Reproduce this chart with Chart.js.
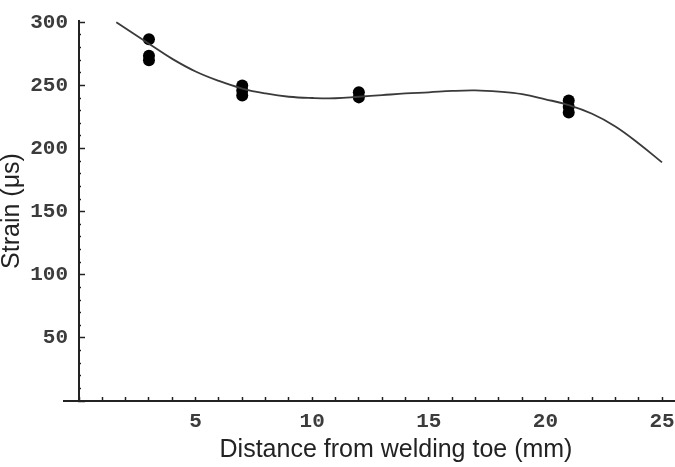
<!DOCTYPE html>
<html><head><meta charset="utf-8">
<script src="https://cdn.jsdelivr.net/npm/chart.js@4.4.0/dist/chart.umd.min.js"></script>
<style>html,body{margin:0;padding:0;background:#fff}#wrap{width:675px;height:467px}</style>
</head><body><div id="wrap"><canvas id="c"></canvas></div>
<script>
// fitted curve
const fitDistance = [1.6, 3, 4, 5, 6, 7, 8, 9, 10, 11, 12, 13, 14, 15, 16, 17, 18, 19, 20, 21, 22, 23, 24, 25];
const fitStrain   = [300, 283, 271, 261, 253.5, 247.5, 243.6, 241, 240, 239.8, 241, 242.3, 243.6, 244.5, 245.6, 246, 245, 243, 239, 234.4, 227.5, 217.5, 204, 189];
// measured points
const measDistance = [3, 3, 3, 7, 7, 7, 12, 12, 21, 21, 21];
const measStrain   = [286.5, 273.5, 270, 250, 246, 242, 244.5, 240.5, 238, 233, 228.5];
// tick labels
const xTickLabels = ['5', '10', '15', '20', '25'];
const yTickLabels = ['50', '100', '150', '200', '250', '300'];
const xTitle = 'Distance from welding toe (mm)';
const yTitle = 'Strain (\u03bcs)';

const axisPlugin = {
  id: 'axisExtent',
  afterLayout(chart) {
    const s = chart.scales.x;
    s.left = chart.chartArea.left - 15;
    s.right = chart.chartArea.right + 59;
  }
};

const tickFont = {family: 'Liberation Mono', size: 21, weight: 'bold'};
const titleFont = {family: 'Liberation Sans', size: 25, lineHeight: 1};

new Chart(document.getElementById('c'), {
  type: 'scatter',
  data: {
    datasets: [
      {
        type: 'line',
        data: fitDistance.map((x, i) => ({x, y: fitStrain[i]})),
        borderColor: '#3a3a3a',
        borderWidth: 1.8,
        pointRadius: 0,
        tension: 0.4,
        fill: false
      },
      {
        data: measDistance.map((x, i) => ({x, y: measStrain[i]})),
        backgroundColor: '#000',
        borderColor: '#000',
        pointRadius: 6,
        borderWidth: 0
      }
    ]
  },
  options: {
    responsive: true,
    maintainAspectRatio: false,
    animation: false,
    layout: {padding: {top: 21, right: 0, left: 0, bottom: 0}},
    plugins: {legend: {display: false}, tooltip: {enabled: false}},
    scales: {
      x: {
        type: 'linear',
        min: 0, max: 25.3,
        afterFit(s) { s.height = 66; s.paddingLeft = 0; s.paddingRight = 0; },
        ticks: {
          stepSize: 1, includeBounds: false, autoSkip: false, maxRotation: 0,
          font: tickFont, color: '#3c3c3c', padding: 12,
          callback: (v) => xTickLabels.includes(String(v)) ? String(v) : ''
        },
        grid: {drawOnChartArea: false, drawTicks: true, tickLength: -4, tickColor: '#222', tickWidth: 1.5},
        border: {display: true, color: '#222', width: 2},
        title: {display: true, text: xTitle, font: titleFont, color: '#222', padding: {top: 0, bottom: 4.5}}
      },
      y: {
        type: 'linear',
        min: 0, max: 301,
        afterFit(s) { s.width = 79; s.paddingTop = 0; s.paddingBottom = 0; },
        ticks: {
          stepSize: 10, includeBounds: false, autoSkip: false,
          font: tickFont, color: '#3c3c3c', padding: 17,
          callback: (v) => yTickLabels.includes(String(v)) ? String(v) : ''
        },
        grid: {
          drawOnChartArea: false, drawTicks: true, tickLength: -6, tickColor: '#222', tickWidth: 1.5,
          tickBorderDash: (ctx) => (ctx.tick && ctx.tick.value % 50 === 0) ? [] : [4, 4],
          tickBorderDashOffset: (ctx) => (ctx.tick && ctx.tick.value % 50 === 0) ? 0 : 4
        },
        border: {display: true, color: '#222', width: 2},
        title: {display: true, text: yTitle, font: titleFont, color: '#222', padding: {top: 0, bottom: 0}}
      }
    }
  },
  plugins: [axisPlugin]
});
</script></body></html>
